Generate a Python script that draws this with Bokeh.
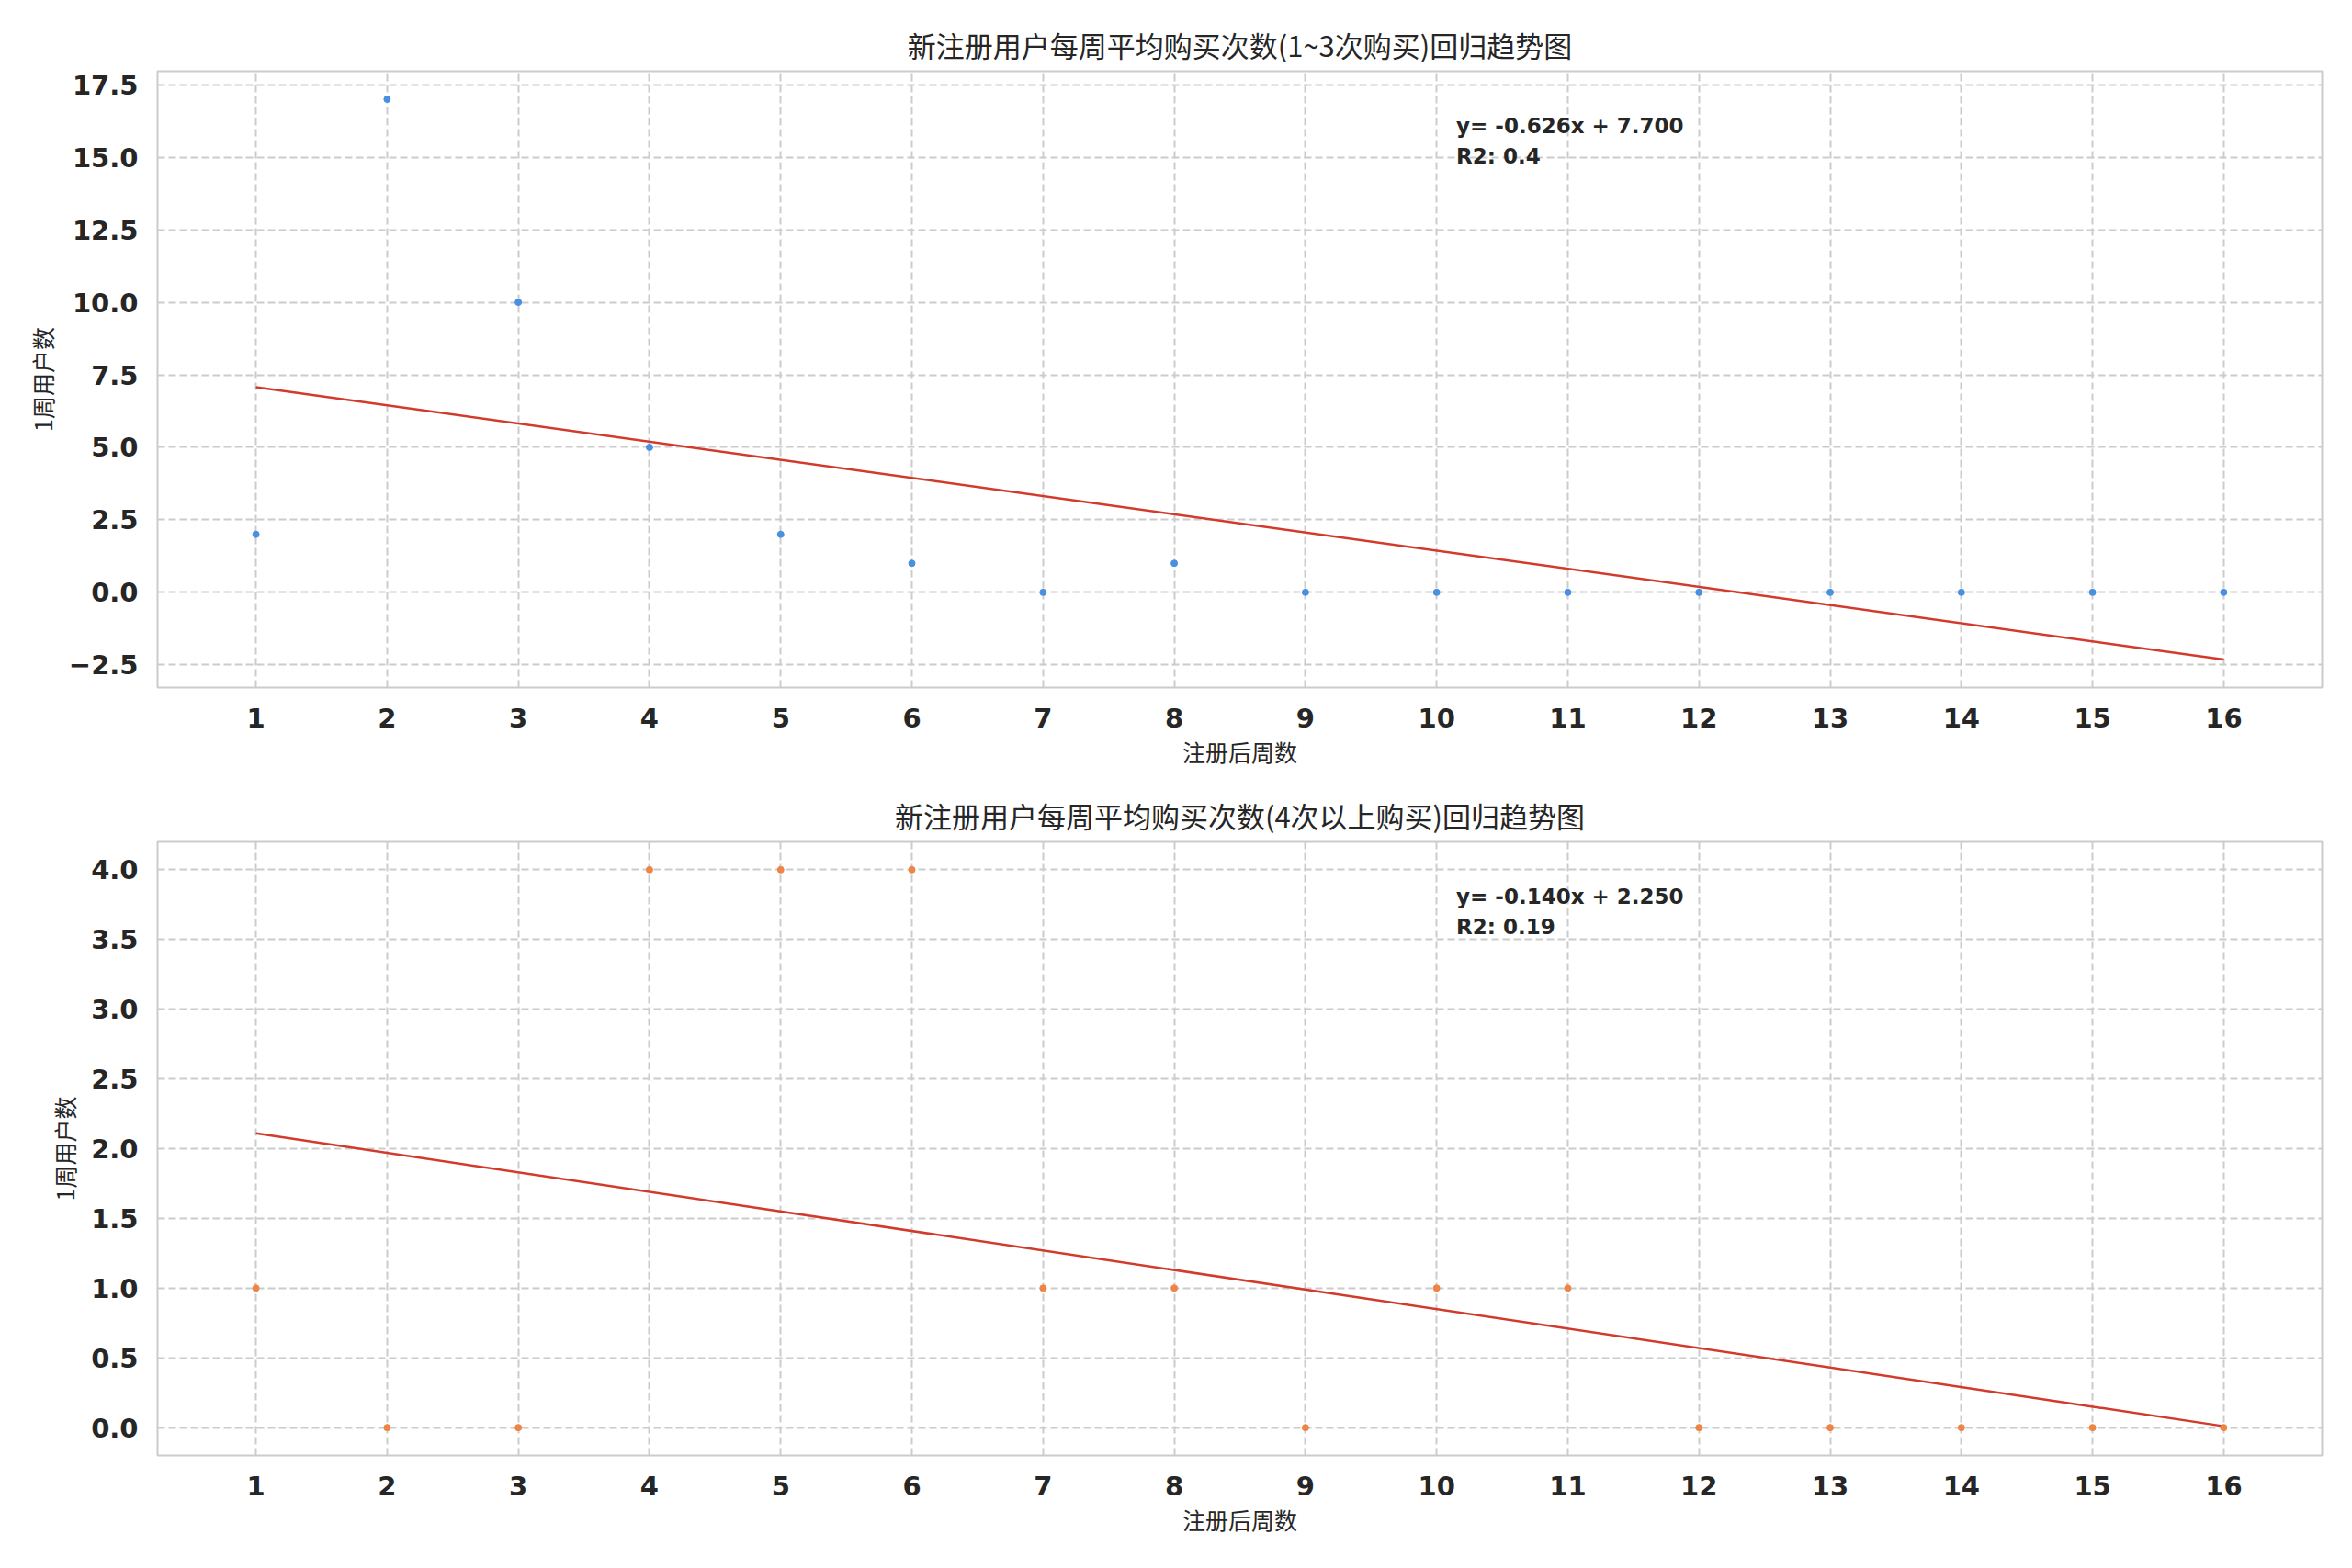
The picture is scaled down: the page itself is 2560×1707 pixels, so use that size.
from bokeh.plotting import figure
from bokeh.layouts import column
from bokeh.models import FixedTicker, CustomJSTickFormatter, Label, Range1d
from bokeh.embed import file_html
from bokeh.resources import INLINE

# ---- data ----
weeks = [1, 2, 3, 4, 5, 6, 7, 8, 9, 10, 11, 12, 13, 14, 15, 16]
counts_low = [2, 17, 10, 5, 2, 1, 0, 1, 0, 0, 0, 0, 0, 0, 0, 0]
counts_high = [1, 0, 0, 4, 4, 4, 1, 1, 0, 1, 1, 0, 0, 0, 0, 0]
slopes = [-0.626, -0.140]
intercepts = [7.700, 2.250]
r2_labels = ["0.4", "0.19"]
titles = ["新注册用户每周平均购买次数(1~3次购买)回归趋势图",
          "新注册用户每周平均购买次数(4次以上购买)回归趋势图"]
x_label = "注册后周数"
y_label = "1周用户数"
y_ticks_low = [-2.5, 0.0, 2.5, 5.0, 7.5, 10.0, 12.5, 15.0, 17.5]
y_ticks_high = [0.0, 0.5, 1.0, 1.5, 2.0, 2.5, 3.0, 3.5, 4.0]
point_colors = ["#4a90e2", "#ee8445"]
line_color = "#d23b2b"

TXT = "#262626"
GRID = "#cccccc"
CJK = "Noto Sans CJK SC"
LAT = "DejaVu Sans"

fmt = CustomJSTickFormatter(code="""
    const s = tick.toFixed(1);
    return s.replace('-', '\\u2212');
""")


def make_plot(ys, yticks, slope, intercept, r2, title, color, height, top, bottom):
    xs_line = [min(weeks), max(weeks)]
    ys_line = [slope * x + intercept for x in xs_line]
    x0, x1 = min(weeks), max(weeks)
    allv = list(ys) + ys_line
    lo, hi = min(allv), max(allv)
    ypad = 0.05 * (hi - lo)
    xpad = 0.05 * (x1 - x0)
    xr = Range1d(x0 - xpad, x1 + xpad)
    yr = Range1d(lo - ypad, hi + ypad)

    p = figure(width=2544, height=height, x_range=xr, y_range=yr,
               output_backend="svg", toolbar_location=None,
               min_border_left=171, min_border_right=17,
               min_border_top=top, min_border_bottom=bottom)
    p.background_fill_color = "white"
    p.border_fill_color = "white"
    p.outline_line_color = GRID
    p.outline_line_width = 2

    p.title.text = title
    p.title.align = "center"
    p.title.text_font = CJK
    p.title.text_font_size = "31px"
    p.title.text_font_style = "normal"
    p.title.text_color = TXT
    p.title.standoff = 13

    for ax in (p.xaxis[0], p.yaxis[0]):
        ax.axis_line_color = None
        ax.major_tick_line_color = None
        ax.minor_tick_line_color = None
        ax.major_label_text_font = LAT
        ax.major_label_text_font_size = "29px"
        ax.major_label_text_font_style = "bold"
        ax.major_label_text_color = TXT
        ax.axis_label_text_font = CJK
        ax.axis_label_text_font_size = "25px"
        ax.axis_label_text_font_style = "normal"
        ax.axis_label_text_color = TXT

    p.xaxis.ticker = FixedTicker(ticks=weeks)
    p.xaxis.axis_label = x_label
    p.xaxis.major_label_standoff = 16
    p.xaxis.axis_label_standoff = 5
    p.yaxis.ticker = FixedTicker(ticks=yticks)
    p.yaxis.formatter = fmt
    p.yaxis.axis_label = y_label
    p.yaxis.major_label_standoff = 15
    p.yaxis.axis_label_standoff = 8

    for g in (p.xgrid[0], p.ygrid[0]):
        g.grid_line_color = GRID
        g.grid_line_width = 2
        g.grid_line_dash = "8 4"

    p.line(xs_line, ys_line, line_color=line_color, line_width=2.5)
    p.scatter(weeks, ys, size=7, fill_color=color, line_color=color)

    frame_h = height - top - bottom
    span = (hi + ypad) - (lo - ypad)
    ax_x = xr.start + 0.6 * (xr.end - xr.start)
    ax_y = yr.start + 0.93 * span
    dy = 33 * span / frame_h
    eq = f"y= {slope:.3f}x + {intercept:.3f}"
    for i, t in enumerate([eq, f"R2: {r2}"]):
        p.add_layout(Label(x=ax_x, y=ax_y - i * dy, text=t, text_font=LAT,
                           text_font_size="23px", text_font_style="bold",
                           text_color=TXT, text_baseline="top", text_align="left"))
    return p


p1 = make_plot(counts_low, y_ticks_low, slopes[0], intercepts[0], r2_labels[0],
               titles[0], point_colors[0], 840, 77, 92)
p2 = make_plot(counts_high, y_ticks_high, slopes[1], intercepts[1], r2_labels[1],
               titles[1], point_colors[1], 843, 76, 99)

layout = column(p1, p2)
open("out.html", "w").write(file_html(layout, INLINE))
